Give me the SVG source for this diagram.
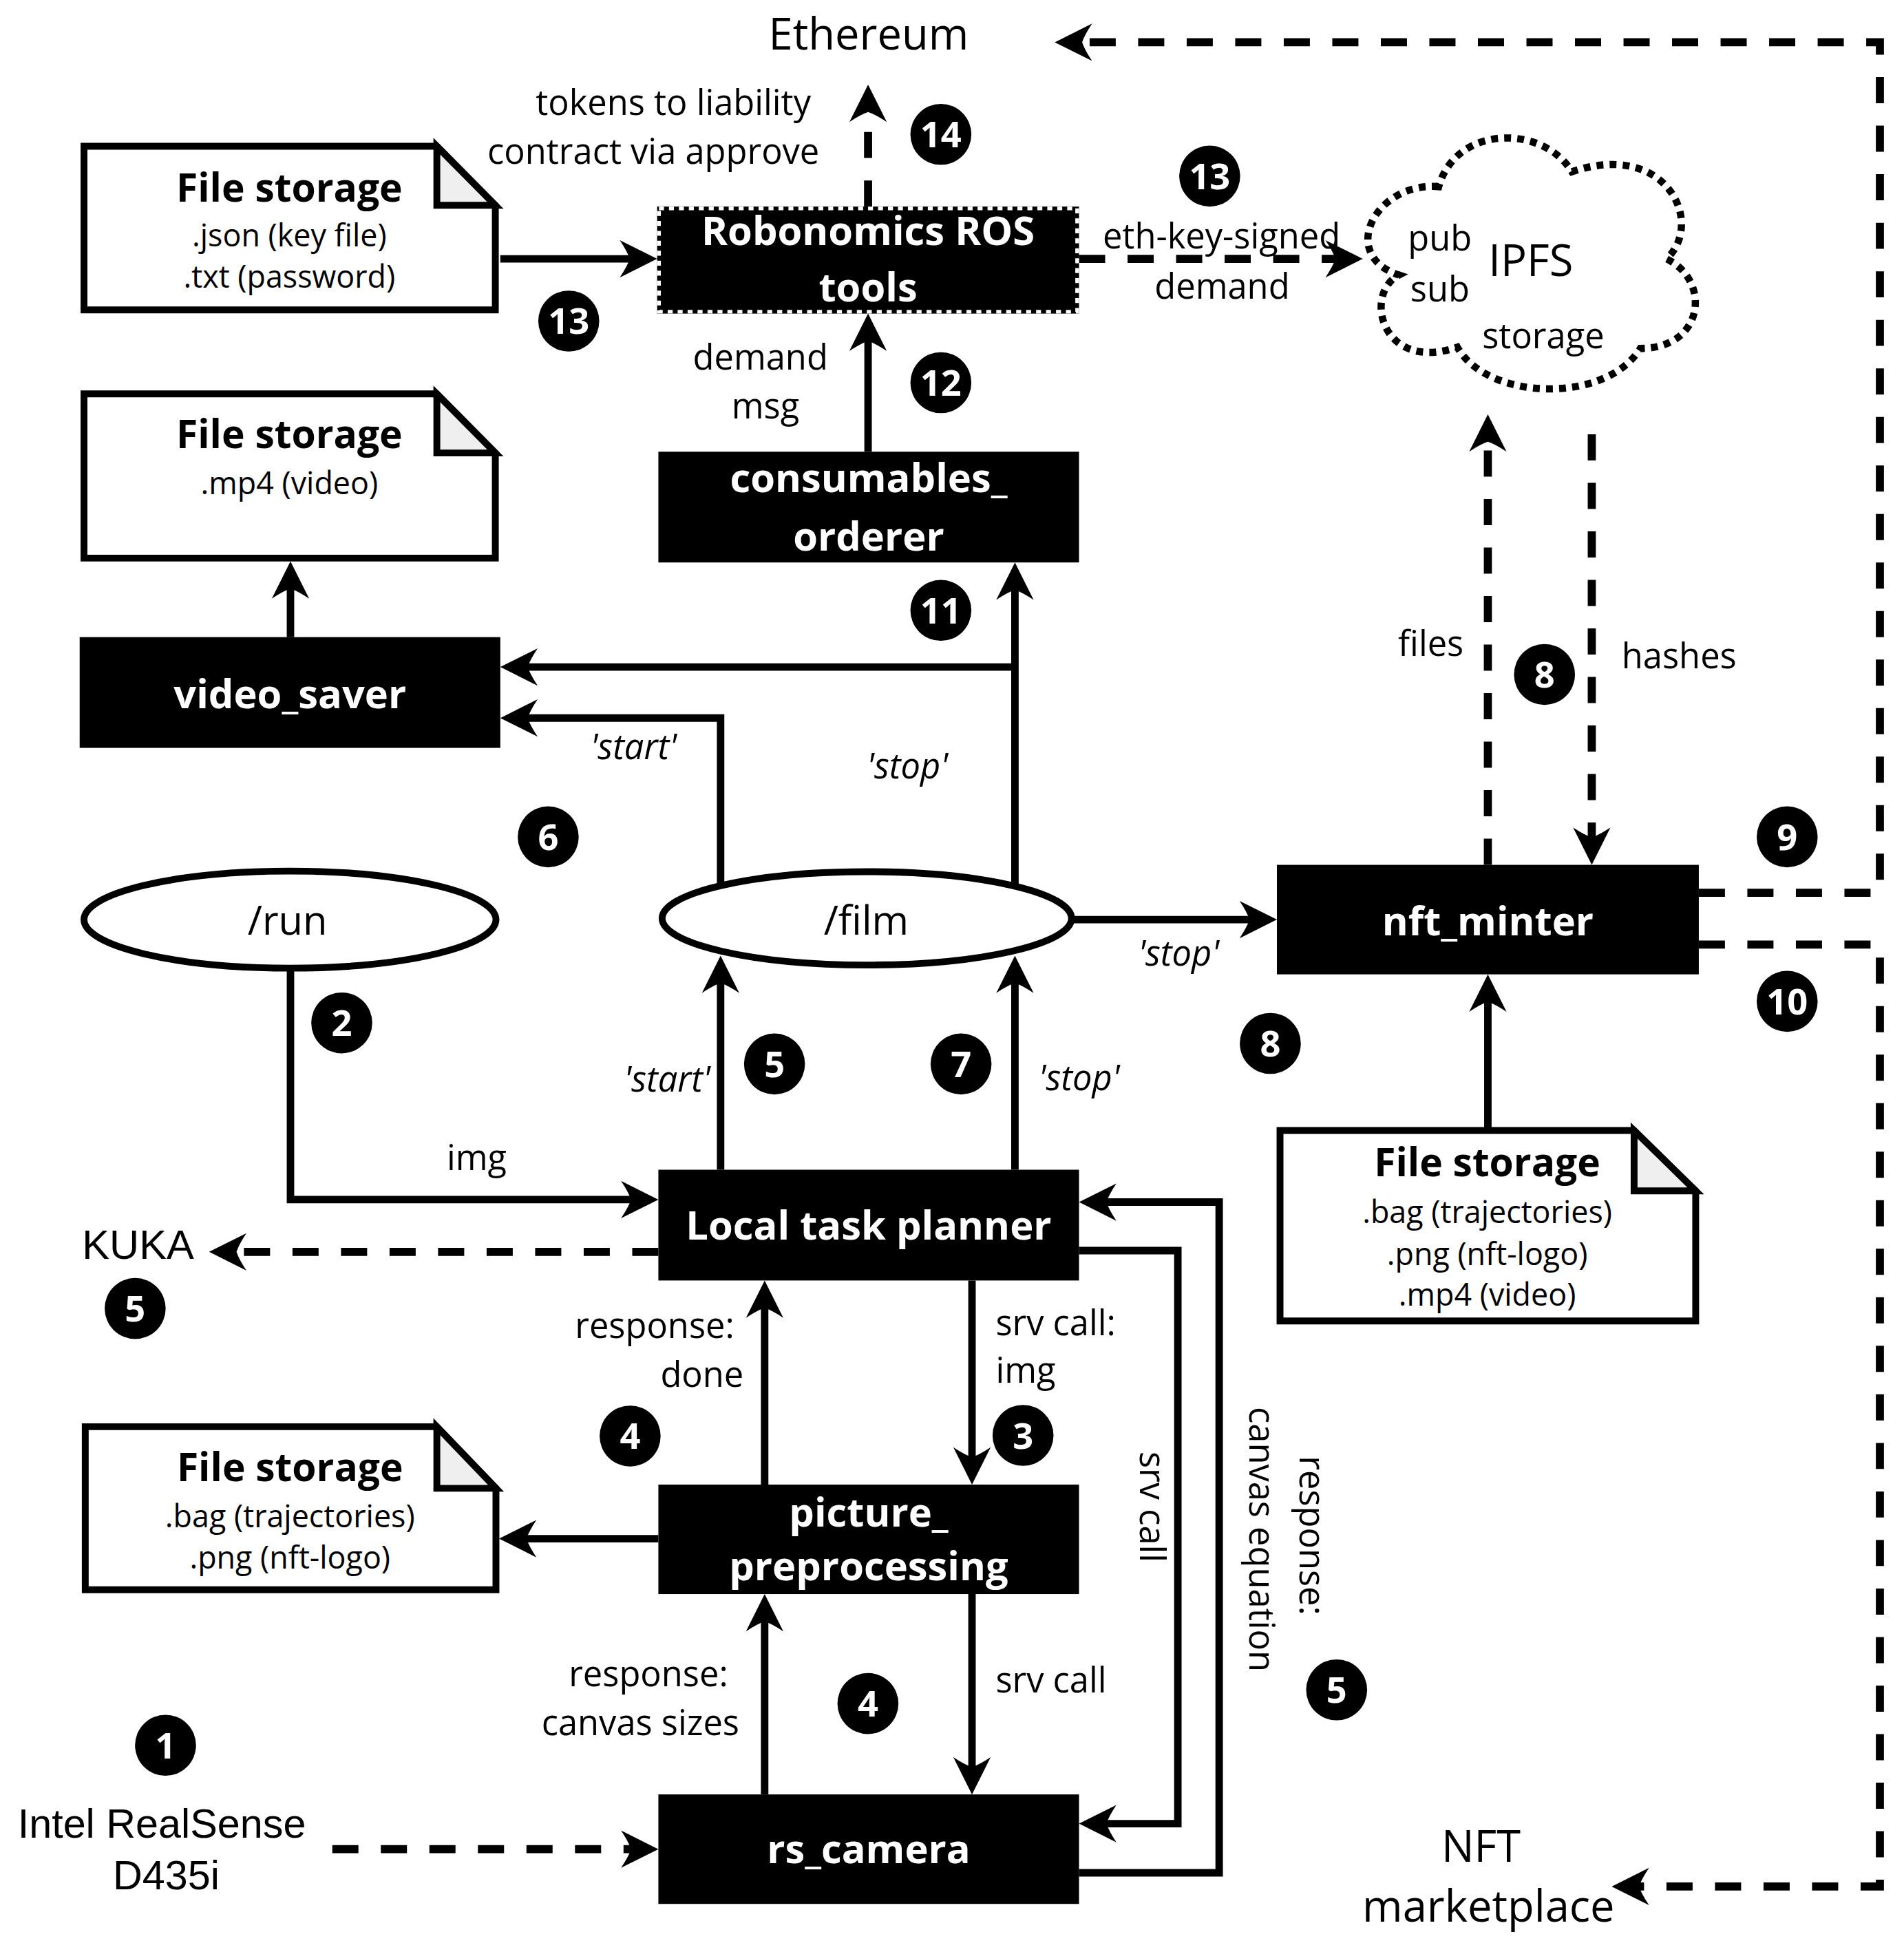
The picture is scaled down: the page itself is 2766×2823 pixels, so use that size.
<svg xmlns="http://www.w3.org/2000/svg" width="2766" height="2823" viewBox="0 0 2766 2823">
<defs>
<style>
.t{font-family:'Open Sans','Noto Sans',sans-serif;fill:#000}
.r{font-size:28px}
.m{text-anchor:middle}
.e{text-anchor:end}
.it{font-style:italic;font-size:28px}
.big{font-size:35px}
.sm{font-size:24.8px}
.b{font-weight:700}
.w{fill:#fff;font-weight:700;font-size:32px;text-anchor:middle}
.ar{font-family:'Liberation Sans',Arial,sans-serif;fill:#000}
.node{fill:#000}
.doc{fill:#fff;stroke:#000;stroke-width:5.5;stroke-linejoin:miter}
.fold{fill:#efefef;stroke:#000;stroke-width:5.5}
.ell{fill:#fff;stroke:#000;stroke-width:5.5}
.c{fill:none;stroke:#000;stroke-width:6;marker-end:url(#ah)}
.d{stroke-dasharray:21 18;stroke-width:6.5}
.num circle{fill:#000}
.num text{fill:#fff;font-family:'Open Sans','Noto Sans',sans-serif;font-weight:700;font-size:29px;text-anchor:middle}
</style>
<marker id="ah" markerUnits="userSpaceOnUse" viewBox="-24 -17 34 34" markerWidth="34" markerHeight="34" refX="0" refY="0" orient="auto" overflow="visible">
<path d="M8,0 L-22,-15 Q-16,-6 -14,0 Q-16,6 -22,15 Z" fill="#000"/>
</marker>
</defs>
<rect width="2766" height="2823" fill="#fff"/>
<g transform="scale(1.808)">

<g id="connectors">
<path class="c" d="M402,208 H520"/>
<path class="c d" d="M867,208 H1087"/>
<path class="c d" d="M697.5,166 V76"/>
<path class="c" d="M697.5,363 V260"/>
<path class="c" d="M233.4,512 V459"/>
<path class="c" d="M815.5,712 V460"/>
<path class="c" d="M815.5,536 H410"/>
<path class="c" d="M579,712 V577 H410"/>
<path class="c" d="M861,739 H1018"/>
<path class="c" d="M233.4,778 V964 H521"/>
<path class="c" d="M579,940 V776"/>
<path class="c" d="M815.5,940 V776"/>
<path class="c d" d="M529,1006 H176"/>
<path class="c" d="M614.4,1193 V1037"/>
<path class="c" d="M781,1029 V1185"/>
<path class="c" d="M529,1236.5 H409"/>
<path class="c" d="M614.4,1442 V1289"/>
<path class="c" d="M781,1281 V1434"/>
<path class="c" d="M867,1005 H946.4 V1465.5 H875"/>
<path class="c" d="M867,1505 H979.6 V966 H875"/>
<path class="c d" d="M267,1486 H521"/>
<path class="c d" d="M1195.5,695 V341"/>
<path class="c d" d="M1279,349 V687"/>
<path class="c" d="M1195.5,906 V791"/>
<path class="c d" d="M1365,717.5 H1510.5 V34 H855.5"/>
<path class="c d" d="M1365,759 H1510.5 V1516 H1303"/>
</g>

<g id="ethereum"><text class="t big m" x="698" y="40">Ethereum</text></g>
<g id="nft_marketplace"><text class="t big m" x="1190" y="1496">NFT</text><text class="t big m" x="1196" y="1544">marketplace</text></g>
<g id="kuka"><text class="ar" x="66" y="1011.5" font-size="33">KUKA</text></g>
<g id="intel_realsense"><text class="ar" x="130" y="1477" font-size="32.8" text-anchor="middle">Intel RealSense</text><text class="ar" x="133.5" y="1518" font-size="32.8" text-anchor="middle">D435i</text></g>

<g id="ipfs">
<path d="M1156,150 C1105,146 1075,205 1124,221 C1095,236 1110,300 1171,279 C1195,322 1290,325 1318,280 C1370,280 1375,225 1339,208 C1370,180 1340,112 1263,138 C1240,100 1170,100 1156,150 Z" fill="#fff" stroke="#000" stroke-width="5.8" stroke-dasharray="5.5 5"/>
<text class="t r m" x="1157" y="201.5">pub</text>
<text class="t r m" x="1157" y="242">sub</text>
<text class="t big" x="1196" y="222">IPFS</text>
<text class="t r m" x="1240" y="280">storage</text>
</g>

<g id="file_storage_keys">
<path class="doc" d="M67.5,117.5 H351 L398,165 V249 H67.5 Z"/>
<path class="fold" d="M351,117.5 V165 H398 Z"/>
<text class="t b m" x="232.5" y="162" font-size="31.5">File storage</text>
<text class="t sm m" x="232.5" y="198">.json (key file)</text>
<text class="t sm m" x="232.5" y="231">.txt (password)</text>
</g>

<g id="file_storage_video">
<path class="doc" d="M67.5,316.5 H351 L398,364 V448.5 H67.5 Z"/>
<path class="fold" d="M351,316.5 V364 H398 Z"/>
<text class="t b m" x="232.5" y="360" font-size="31.5">File storage</text>
<text class="t sm m" x="232.5" y="397">.mp4 (video)</text>
</g>

<g id="robonomics_ros_tools">
<rect class="node" x="528" y="166" width="339" height="86"/>
<rect x="529.5" y="167.5" width="336" height="83" fill="none" stroke="#fff" stroke-width="3" stroke-dasharray="4 4"/>
<text class="t w" x="697.5" y="197">Robonomics ROS</text>
<text class="t w" x="697.5" y="242.5">tools</text>
</g>

<g id="consumables_orderer">
<rect class="node" x="529" y="363" width="338" height="89"/>
<text class="t w" x="698" y="395.5">consumables_</text>
<text class="t w" x="698" y="442.5">orderer</text>
</g>

<g id="video_saver">
<rect class="node" x="64" y="512" width="338" height="89"/>
<text class="t w" x="233" y="569">video_saver</text>
</g>

<g id="run_topic">
<ellipse class="ell" cx="233" cy="739" rx="165.5" ry="39"/>
<text class="t m" x="231" y="751" font-size="32">/run</text>
</g>

<g id="film_topic">
<ellipse class="ell" cx="696.5" cy="738" rx="164.5" ry="37.5"/>
<text class="t m" x="696" y="751" font-size="32">/film</text>
</g>

<g id="nft_minter">
<rect class="node" x="1026" y="695" width="339" height="88"/>
<text class="t w" x="1195.5" y="751.5">nft_minter</text>
</g>

<g id="file_storage_nft">
<path class="doc" d="M1028.5,908.5 H1313 L1362.5,957 V1061.5 H1028.5 Z"/>
<path class="fold" d="M1313,908.5 V957 H1362.5 Z"/>
<text class="t b m" x="1195" y="945" font-size="31.5">File storage</text>
<text class="t sm m" x="1195" y="983">.bag (trajectories)</text>
<text class="t sm m" x="1195" y="1016.5">.png (nft-logo)</text>
<text class="t sm m" x="1195" y="1049.5">.mp4 (video)</text>
</g>

<g id="local_task_planner">
<rect class="node" x="529" y="940" width="338" height="89"/>
<text class="t w" x="698" y="996">Local task planner</text>
</g>

<g id="file_storage_traj">
<path class="doc" d="M68.5,1146.5 H351 L398.5,1196 V1277.5 H68.5 Z"/>
<path class="fold" d="M351,1146.5 V1196 H398.5 Z"/>
<text class="t b m" x="233" y="1190" font-size="31.5">File storage</text>
<text class="t sm m" x="233" y="1227.5">.bag (trajectories)</text>
<text class="t sm m" x="233" y="1260.5">.png (nft-logo)</text>
</g>

<g id="picture_preprocessing">
<rect class="node" x="529" y="1193" width="338" height="88"/>
<text class="t w" x="698" y="1226.5">picture_</text>
<text class="t w" x="698" y="1270">preprocessing</text>
</g>

<g id="rs_camera">
<rect class="node" x="529" y="1442" width="338" height="88"/>
<text class="t w" x="698" y="1497.5">rs_camera</text>
</g>

<g id="labels">
<text class="t r m" x="541" y="92.5">tokens to liability</text>
<text class="t r m" x="525" y="131.5">contract via approve</text>
<text class="t r m" x="981.5" y="199.5">eth-key-signed</text>
<text class="t r m" x="982" y="240">demand</text>
<text class="t r m" x="611" y="297">demand</text>
<text class="t r m" x="615" y="336.5">msg</text>
<text class="t r e" x="1176" y="527">files</text>
<text class="t r" x="1303" y="537">hashes</text>
<text class="t it m" x="509" y="610">'start'</text>
<text class="t it m" x="729" y="625.5">'stop'</text>
<text class="t it m" x="947" y="776">'stop'</text>
<text class="t it m" x="536" y="877">'start'</text>
<text class="t it m" x="867" y="876">'stop'</text>
<text class="t r m" x="383" y="940">img</text>
<text class="t r e" x="590" y="1075">response:</text>
<text class="t r e" x="597.5" y="1114.5">done</text>
<text class="t r" x="800" y="1073">srv call:</text>
<text class="t r" x="800" y="1111">img</text>
<text class="t r e" x="585" y="1355">response:</text>
<text class="t r e" x="594" y="1394.5">canvas sizes</text>
<text class="t r" x="800" y="1360">srv call</text>
<text class="t r m" transform="translate(916,1211) rotate(90)">srv call</text>
<text class="t r m" transform="translate(1004,1237) rotate(90)">canvas equation</text>
<text class="t r m" transform="translate(1044,1234) rotate(90)">response:</text>
</g>

<g id="step_numbers" class="num">
<g><circle cx="756" cy="108" r="24.5"/><text x="756" y="118.5">14</text></g>
<g><circle cx="972" cy="141.5" r="24.5"/><text x="972" y="152">13</text></g>
<g><circle cx="457" cy="258" r="24.5"/><text x="457" y="268.5">13</text></g>
<g><circle cx="756" cy="307.5" r="24.5"/><text x="756" y="318">12</text></g>
<g><circle cx="756" cy="490.5" r="24.5"/><text x="756" y="501">11</text></g>
<g><circle cx="1241" cy="542" r="24.5"/><text x="1241" y="552.5">8</text></g>
<g><circle cx="1436" cy="672.5" r="24.5"/><text x="1436" y="683">9</text></g>
<g><circle cx="440.5" cy="672.5" r="24.5"/><text x="440.5" y="683">6</text></g>
<g><circle cx="274.6" cy="822" r="24.5"/><text x="274.6" y="832.5">2</text></g>
<g><circle cx="622.3" cy="855" r="24.5"/><text x="622.3" y="865.5">5</text></g>
<g><circle cx="772.2" cy="855" r="24.5"/><text x="772.2" y="865.5">7</text></g>
<g><circle cx="1020.7" cy="838.5" r="24.5"/><text x="1020.7" y="849">8</text></g>
<g><circle cx="1436" cy="804.7" r="24.5"/><text x="1436" y="815.2">10</text></g>
<g><circle cx="108.6" cy="1051.5" r="24.5"/><text x="108.6" y="1062">5</text></g>
<g><circle cx="506.3" cy="1154" r="24.5"/><text x="506.3" y="1164.5">4</text></g>
<g><circle cx="822" cy="1153.5" r="24.5"/><text x="822" y="1164">3</text></g>
<g><circle cx="697.4" cy="1369" r="24.5"/><text x="697.4" y="1379.5">4</text></g>
<g><circle cx="1074" cy="1358" r="24.5"/><text x="1074" y="1368.5">5</text></g>
<g><circle cx="133" cy="1402.5" r="24.5"/><text x="133" y="1413">1</text></g>
</g>

</g>
</svg>
